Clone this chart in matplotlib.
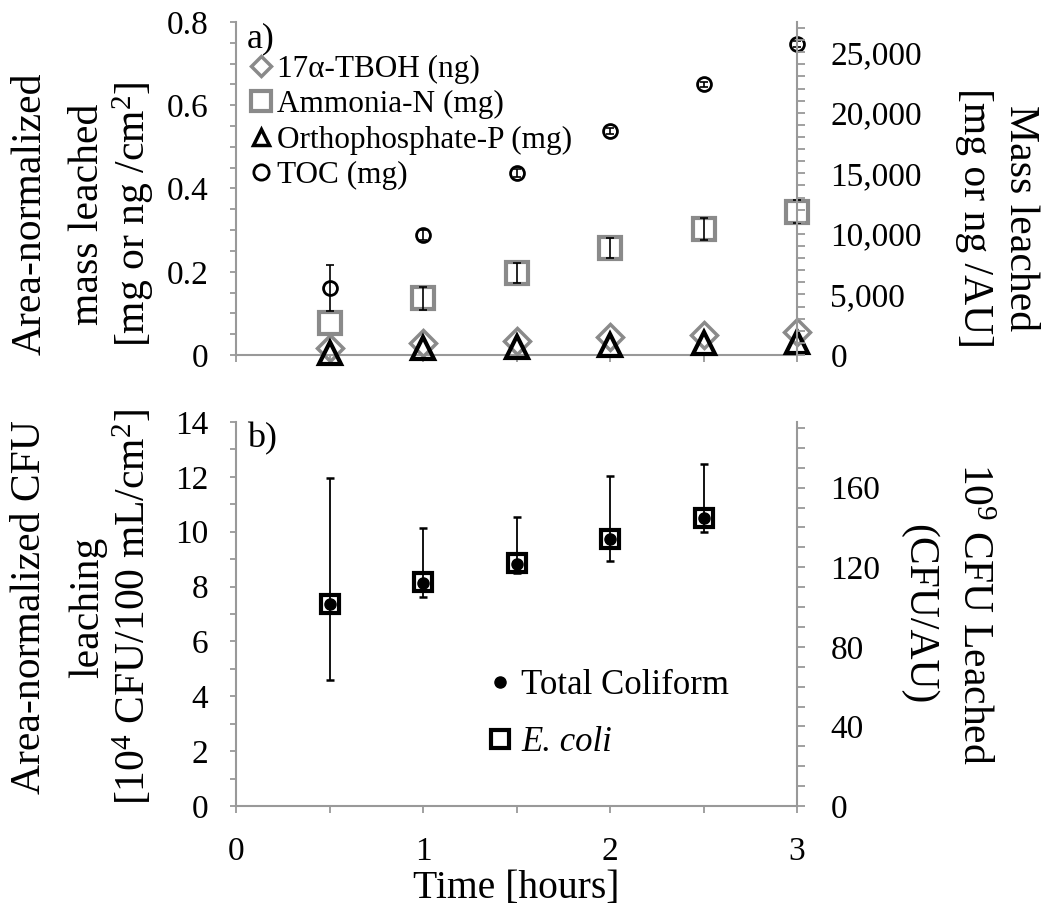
import numpy as np
import matplotlib.pyplot as plt
from matplotlib.ticker import MultipleLocator, FuncFormatter

plt.rcParams["font.family"] = ["Liberation Serif", "DejaVu Serif"]
plt.rcParams["mathtext.fontset"] = "stix"

# ---- data ----
time_h = [0.5, 1.0, 1.5, 2.0, 2.5, 3.0]

tboh = [0.017, 0.028, 0.034, 0.043, 0.048, 0.055]
ammonia = [0.076, 0.136, 0.197, 0.257, 0.302, 0.344]
# no visible bar on the first ammonia point
ammonia_err = [0.0, 0.028, 0.025, 0.025, 0.026, 0.028]
ortho = [0.004, 0.016, 0.019, 0.024, 0.028, 0.032]
toc = [0.161, 0.288, 0.437, 0.538, 0.651, 0.747]
toc_err = [0.055, 0.012, 0.010, 0.008, 0.006, 0.007]

time_cfu = [0.5, 1.0, 1.5, 2.0, 2.5]
coliform = [7.36, 8.13, 8.82, 9.73, 10.50]
coliform_lo = [2.77, 0.51, 0.32, 0.80, 0.51]
coliform_hi = [4.60, 2.00, 1.72, 2.30, 1.97]
ecoli = [7.36, 8.15, 8.85, 9.75, 10.50]

GRAY = "#8a8a8a"
SPINE = "#999999"
TICK_SIZE = 24

fig = plt.figure(figsize=(10.49, 9.13), dpi=100)
ax1 = fig.add_axes([236 / 1049, 1 - 355 / 913, 561 / 1049, 333 / 913])
ax2 = fig.add_axes([236 / 1049, 1 - 806 / 913, 561 / 1049, 384 / 913])


def style_axes(ax):
    ax.spines["top"].set_visible(False)
    for s in ["left", "right", "bottom"]:
        ax.spines[s].set_color(SPINE)
        ax.spines[s].set_linewidth(1.5)
    ax.tick_params(axis="both", which="both", direction="out", color=SPINE,
                   width=1.3, labelsize=TICK_SIZE)
    ax.tick_params(axis="y", which="both", length=4, pad=16)
    ax.tick_params(axis="x", which="both", length=5, pad=17)
    ax.set_xlim(0, 3)


def style_right(ax):
    for s in ["top", "left", "bottom"]:
        ax.spines[s].set_visible(False)
    ax.spines["right"].set_color(SPINE)
    ax.spines["right"].set_linewidth(1.5)
    ax.tick_params(axis="y", which="both", direction="out", color=SPINE, width=1.3,
                   length=6, labelsize=TICK_SIZE, pad=18)


# ---- panel a ----
ax1.set_ylim(0, 0.8)
ax1.yaxis.set_major_locator(MultipleLocator(0.2))
ax1.yaxis.set_minor_locator(MultipleLocator(0.05))
ax1.yaxis.set_major_formatter(FuncFormatter(lambda v, p: "0" if v == 0 else f"{v:.1f}"))
ax1.set_xticks([0, 0.5, 1, 1.5, 2, 2.5, 3])
ax1.set_xticklabels([])

ax1.errorbar(time_h, toc, yerr=toc_err, fmt="none", ecolor="black", elinewidth=1.2,
             capsize=3, capthick=1.2, zorder=5, clip_on=False)
ax1.errorbar(time_h[1:], ammonia[1:], yerr=ammonia_err[1:], fmt="none", ecolor="black",
             elinewidth=1.2, capsize=3, capthick=1.2, zorder=4, clip_on=False)
ax1.plot(time_h, ammonia, "s", ms=16, mfc="none", mec=GRAY, mew=3, zorder=3, clip_on=False)
ax1.plot(time_h, tboh, "D", ms=13, mfc="none", mec=GRAY, mew=2.5, zorder=3, clip_on=False)
ax1.plot(time_h, ortho, "^", ms=16, mfc="none", mec="black", mew=3, zorder=4, clip_on=False)
ax1.plot(time_h, toc, "o", ms=10, mfc="none", mec="black", mew=2, zorder=4, clip_on=False)

h_tboh, = ax1.plot([], [], "D", ms=10, mfc="none", mec=GRAY, mew=2.5)
h_amm, = ax1.plot([], [], "s", ms=15, mfc="none", mec=GRAY, mew=3)
h_ort, = ax1.plot([], [], "^", ms=11, mfc="none", mec="black", mew=2.5)
h_toc, = ax1.plot([], [], "o", ms=11, mfc="none", mec="black", mew=2)
ax1.legend([h_tboh, h_amm, h_ort, h_toc],
           ["17α-TBOH (ng)", "Ammonia-N (mg)", "Orthophosphate-P (mg)", "TOC (mg)"],
           loc="upper left", bbox_to_anchor=(0.012, 0.92), frameon=False,
           handlelength=0.8, handletextpad=0.1, labelspacing=0.2,
           borderpad=0.1, borderaxespad=0.1, fontsize=22.5)

ax1.text(0.02, 1.0, "a)", transform=ax1.transAxes, ha="left", va="top", fontsize=26)

ax1r = ax1.twinx()
ax1r.set_ylim(0, 27500)
ax1r.yaxis.set_major_locator(MultipleLocator(5000))
ax1r.yaxis.set_minor_locator(MultipleLocator(1000))
ax1r.yaxis.set_major_formatter(FuncFormatter(lambda v, p: f"{int(v):,}"))
style_right(ax1r)
style_axes(ax1)
ax1.spines["right"].set_visible(False)

# ---- panel b ----
ax2.set_ylim(0, 14)
ax2.yaxis.set_major_locator(MultipleLocator(2))
ax2.yaxis.set_minor_locator(MultipleLocator(1))
ax2.set_xticks([0, 0.5, 1, 1.5, 2, 2.5, 3])
ax2.set_xticklabels(["0", "", "1", "", "2", "", "3"])

ax2.errorbar(time_cfu, coliform, yerr=[coliform_lo, coliform_hi], fmt="none",
             ecolor="black", elinewidth=1.3, capsize=3, capthick=1.8, zorder=3)
ax2.plot(time_cfu, ecoli, "s", ms=13, mfc="none", mec="black", mew=3, zorder=4)
ax2.plot(time_cfu, coliform, "o", ms=8, color="black", zorder=5)

h_col, = ax2.plot([], [], "o", ms=8, color="black")
h_eco, = ax2.plot([], [], "s", ms=13, mfc="none", mec="black", mew=3)
leg2 = ax2.legend([h_col, h_eco], ["Total Coliform", "E. coli"],
                  loc="upper left", bbox_to_anchor=(0.44, 0.375), frameon=False,
                  handlelength=0.6, handletextpad=0.3, labelspacing=0.7,
                  borderpad=0.1, borderaxespad=0.1, fontsize=25)
leg2.get_texts()[1].set_fontstyle("italic")

ax2.text(0.02, 1.0, "b)", transform=ax2.transAxes, ha="left", va="top", fontsize=26)

ax2r = ax2.twinx()
ax2r.set_ylim(0, 193)
ax2r.yaxis.set_major_locator(MultipleLocator(40))
ax2r.yaxis.set_minor_locator(MultipleLocator(10))
style_right(ax2r)
style_axes(ax2)
ax2.spines["right"].set_visible(False)

# ---- axis titles ----
fig.text(516 / 1049, 1 - 888 / 913, "Time [hours]", ha="center", va="center", fontsize=28.5)

lab_kw = dict(fontsize=30, ha="center", va="center")
for x, t in zip([30, 88, 133], ["Area-normalized", "mass leached",
                                "[mg or ng /cm$\\mathregular{^2}$]"]):
    fig.text(x / 1049, 1 - 214 / 913, t, rotation=90, **lab_kw)
for x, t in zip([30, 88, 133], ["Area-normalized CFU", "leaching",
                                "[10$\\mathregular{^4}$ CFU/100 mL/cm$\\mathregular{^2}$]"]):
    fig.text(x / 1049, 1 - 607 / 913, t, rotation=90, **lab_kw)
for x, t in zip([1020, 974], ["Mass leached", "[mg or ng /AU]"]):
    fig.text(x / 1049, 1 - 218 / 913, t, rotation=270, **lab_kw)
for x, t in zip([973, 918], ["10$\\mathregular{^9}$ CFU Leached", "(CFU/AU)"]):
    fig.text(x / 1049, 1 - 614 / 913, t, rotation=270, **lab_kw)

fig.savefig("out.png", dpi=100)
